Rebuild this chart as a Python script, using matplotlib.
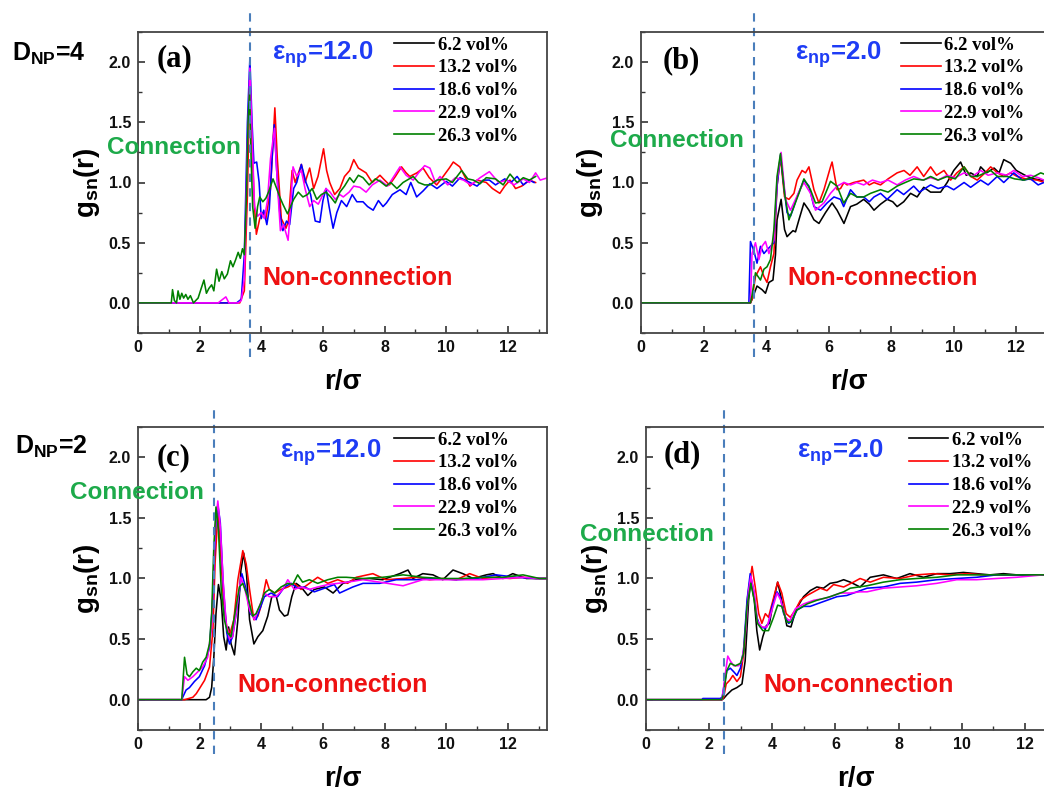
import matplotlib
matplotlib.use('Agg')
import matplotlib.pyplot as plt
from matplotlib.lines import Line2D
from matplotlib.ticker import MultipleLocator

plt.rcParams['font.family'] = ['Liberation Sans', 'DejaVu Sans']
plt.rcParams['mathtext.fontset'] = 'custom'
plt.rcParams['mathtext.rm'] = 'Liberation Sans:bold'
plt.rcParams['mathtext.bf'] = 'Liberation Sans:bold'
plt.rcParams['mathtext.it'] = 'Liberation Sans:bold'

vol_labels = ['6.2 vol%', '13.2 vol%', '18.6 vol%', '22.9 vol%', '26.3 vol%']
line_colors = ['#000000', '#ff0000', '#0000ff', '#ff00ff', '#008000']
panel_letters = ['(a)', '(b)', '(c)', '(d)']
eps_values = ['12.0', '2.0', '12.0', '2.0']
cut_r = [3.63, 3.62, 2.48, 2.48]   # dashed line position
d_np = ['4', '2']

# (r, g) points
# panel (a): D_NP=4, eps=12 (black curve is hidden under the others)
a_red = [(0, 0), (3.3, 0), (3.45, 0.1), (3.55, 0.9), (3.63, 1.9), (3.7, 1.3), (3.78, 0.8), (3.84, 0.57),
         (3.95, 0.7), (4.05, 0.75), (4.15, 0.7), (4.3, 0.95), (4.44, 1.62), (4.52, 1.2), (4.65, 0.7),
         (4.8, 0.62), (4.88, 0.68), (5.0, 1.1), (5.1, 1.0), (5.3, 1.15), (5.42, 1.0), (5.57, 1.12),
         (5.7, 0.95), (5.84, 1.05), (6.02, 1.28), (6.12, 1.1), (6.22, 1.0), (6.38, 0.9), (6.55, 0.95),
         (6.7, 1.05), (6.87, 1.1), (7.0, 1.19), (7.15, 1.12), (7.4, 1.08), (7.6, 1.0), (7.85, 1.06),
         (8.0, 1.02), (8.16, 0.98), (8.35, 1.05), (8.55, 1.13), (8.7, 1.08), (8.82, 1.05), (9.05, 1.08),
         (9.25, 1.12), (9.45, 1.04), (9.69, 0.98), (9.9, 1.05), (10.1, 1.12), (10.23, 1.17), (10.44, 1.13),
         (10.6, 1.05), (10.77, 0.97), (11.0, 1.02), (11.3, 1.0), (11.5, 0.95), (11.74, 0.91), (11.9, 0.97),
         (12.07, 1.02), (12.25, 0.95), (12.45, 0.97), (12.7, 1.02), (12.9, 1.0)]
a_blue = [(0, 0), (3.2, 0), (3.35, 0.03), (3.45, 0.4), (3.55, 1.5), (3.63, 2.03), (3.7, 1.5), (3.76, 1.16),
          (3.85, 1.17), (3.93, 1.0), (4.0, 0.7), (4.08, 0.77), (4.18, 0.65), (4.26, 0.78), (4.35, 1.2),
          (4.42, 1.48), (4.5, 1.1), (4.6, 0.75), (4.7, 0.6), (4.82, 0.68), (4.92, 0.65), (5.05, 0.95),
          (5.15, 1.0), (5.3, 1.15), (5.45, 1.0), (5.6, 0.9), (5.75, 0.68), (5.9, 0.67), (6.0, 0.85),
          (6.1, 0.95), (6.2, 0.8), (6.33, 0.62), (6.45, 0.75), (6.6, 0.85), (6.77, 0.8), (6.95, 0.9),
          (7.1, 0.84), (7.3, 0.84), (7.45, 0.8), (7.63, 0.77), (7.8, 0.85), (7.95, 0.8), (8.06, 0.83),
          (8.25, 0.9), (8.5, 0.94), (8.7, 0.9), (8.85, 1.0), (9.04, 0.88), (9.25, 0.93), (9.47, 0.99),
          (9.7, 0.95), (10.0, 1.01), (10.2, 0.97), (10.45, 1.04), (10.77, 1.0), (11.0, 0.97), (11.2, 1.02),
          (11.4, 1.02), (11.6, 0.98), (11.9, 1.03), (12.1, 1.0), (12.3, 1.05), (12.5, 0.98), (12.7, 1.02),
          (12.85, 1.0)]
a_magenta = [(0, 0), (2.6, 0), (2.75, 0.03), (2.85, 0.05), (2.95, 0.0), (3.25, 0.0), (3.35, 0.02),
             (3.45, 0.2), (3.55, 1.3), (3.63, 1.95), (3.7, 1.4), (3.78, 0.8), (3.88, 0.72), (4.0, 0.75),
             (4.1, 0.7), (4.2, 0.85), (4.3, 1.2), (4.43, 1.45), (4.52, 1.0), (4.62, 0.6), (4.72, 0.65),
             (4.87, 0.52), (4.95, 0.8), (5.03, 1.13), (5.15, 1.05), (5.3, 1.1), (5.42, 0.95), (5.57, 0.8),
             (5.7, 0.85), (5.85, 0.82), (6.0, 0.9), (6.1, 0.95), (6.23, 0.92), (6.4, 0.86), (6.55, 0.9),
             (6.66, 0.88), (6.85, 0.92), (7.0, 0.97), (7.2, 0.96), (7.4, 0.92), (7.6, 0.98), (7.85, 1.02),
             (8.1, 0.97), (8.3, 1.05), (8.5, 1.13), (8.7, 1.06), (8.93, 1.02), (9.1, 1.08), (9.3, 1.14),
             (9.47, 1.12), (9.65, 1.0), (9.8, 1.05), (10.05, 0.98), (10.3, 1.04), (10.56, 1.02), (10.8, 0.98),
             (11.1, 1.04), (11.4, 1.09), (11.7, 1.0), (11.96, 1.02), (12.2, 0.98), (12.5, 1.03), (12.7, 1.0),
             (12.9, 1.08), (13.05, 1.02), (13.3, 1.04)]
a_green = [(0, 0), (1.08, 0), (1.12, 0.11), (1.18, 0.02), (1.25, 0.0), (1.3, 0.1), (1.36, 0.03), (1.42, 0.08),
           (1.48, 0.04), (1.55, 0.07), (1.62, 0.03), (1.7, 0.06), (1.8, 0.0), (1.95, 0.04), (2.05, 0.12),
           (2.14, 0.19), (2.22, 0.08), (2.3, 0.12), (2.39, 0.15), (2.46, 0.1), (2.55, 0.28), (2.63, 0.18),
           (2.72, 0.26), (2.8, 0.2), (2.9, 0.24), (3.0, 0.35), (3.08, 0.3), (3.17, 0.36), (3.25, 0.42),
           (3.32, 0.37), (3.39, 0.45), (3.45, 0.4), (3.52, 0.9), (3.57, 1.5), (3.62, 1.78), (3.67, 1.2),
           (3.72, 0.8), (3.8, 0.62), (3.88, 0.8), (3.95, 0.88), (4.05, 0.84), (4.15, 0.87), (4.25, 0.93),
           (4.38, 1.03), (4.5, 0.95), (4.6, 0.88), (4.7, 0.82), (4.85, 0.74), (4.95, 0.8), (5.05, 0.86),
           (5.2, 0.92), (5.35, 0.88), (5.5, 0.9), (5.65, 0.95), (5.8, 0.86), (5.95, 0.9), (6.1, 0.92),
           (6.25, 0.88), (6.4, 0.83), (6.55, 0.92), (6.7, 0.97), (6.87, 1.04), (7.0, 1.0), (7.15, 1.06),
           (7.3, 1.04), (7.5, 0.98), (7.7, 1.03), (7.85, 1.01), (8.05, 0.97), (8.2, 1.0), (8.4, 0.95),
           (8.6, 1.0), (8.93, 1.05), (9.1, 1.0), (9.3, 0.98), (9.47, 0.98), (9.7, 1.02), (10.0, 1.03),
           (10.2, 1.0), (10.5, 1.1), (10.7, 1.03), (10.88, 1.02), (11.1, 0.99), (11.3, 1.04), (11.6, 1.03),
           (11.85, 0.98), (12.07, 1.07), (12.3, 1.0), (12.5, 1.04), (12.7, 1.02), (12.9, 1.05)]

# panel (b): D_NP=4, eps=2
b_black = [(0, 0), (3.5, 0), (3.55, 0.03), (3.71, 0.14), (3.87, 0.11), (3.98, 0.08), (4.09, 0.17), (4.22, 0.19),
           (4.3, 0.4), (4.35, 0.69), (4.48, 0.86), (4.59, 0.61), (4.67, 0.55), (4.78, 0.58), (4.86, 0.6),
           (4.94, 0.59), (5.05, 0.69), (5.21, 0.83), (5.37, 0.77), (5.53, 0.69), (5.69, 0.66), (5.9, 0.75),
           (6.11, 0.83), (6.27, 0.77), (6.49, 0.66), (6.7, 0.8), (6.9, 0.82), (7.12, 0.86), (7.3, 0.82),
           (7.45, 0.77), (7.66, 0.82), (7.87, 0.86), (8.05, 0.84), (8.19, 0.8), (8.4, 0.84), (8.62, 0.91),
           (8.83, 0.88), (9.04, 0.96), (9.26, 0.92), (9.58, 0.92), (9.79, 1.0), (10.0, 1.1), (10.22, 1.17),
           (10.4, 1.06), (10.54, 1.08), (10.75, 1.05), (10.86, 1.13), (11.05, 1.08), (11.29, 1.12),
           (11.45, 1.08), (11.6, 1.19), (11.82, 1.16), (12.0, 1.1), (12.14, 1.08), (12.35, 1.05),
           (12.57, 1.03), (12.78, 1.02), (13.3, 1.01)]
b_red = [(0, 0), (3.5, 0), (3.55, 0.03), (3.66, 0.22), (3.82, 0.3), (3.93, 0.22), (4.03, 0.17), (4.14, 0.3),
         (4.25, 0.41), (4.35, 0.97), (4.46, 1.21), (4.59, 0.88), (4.73, 0.86), (4.89, 0.91), (4.99, 1.02),
         (5.15, 1.1), (5.26, 1.08), (5.37, 1.13), (5.53, 0.94), (5.69, 0.83), (5.85, 0.94), (6.06, 1.13),
         (6.11, 1.17), (6.27, 0.94), (6.38, 0.95), (6.49, 1.0), (6.59, 0.98), (6.8, 1.0), (7.12, 1.02),
         (7.3, 0.98), (7.45, 1.0), (7.66, 0.98), (7.9, 1.03), (8.19, 1.08), (8.41, 1.1), (8.6, 1.06),
         (8.83, 1.13), (9.04, 1.05), (9.26, 1.13), (9.45, 1.06), (9.69, 1.1), (9.9, 1.02), (10.1, 1.08),
         (10.33, 1.13), (10.55, 1.05), (10.75, 1.02), (11.0, 1.08), (11.18, 1.13), (11.4, 1.08),
         (11.6, 1.05), (11.82, 1.08), (12.03, 1.05), (12.3, 1.03), (12.67, 1.02), (12.9, 1.0), (13.3, 1.0)]
b_blue = [(0, 0), (3.45, 0), (3.5, 0.51), (3.61, 0.43), (3.71, 0.33), (3.82, 0.47), (3.93, 0.41), (4.03, 0.44),
          (4.14, 0.47), (4.25, 0.5), (4.35, 0.97), (4.46, 1.23), (4.57, 0.97), (4.67, 0.75), (4.78, 0.72),
          (4.89, 0.8), (4.99, 0.88), (5.1, 0.95), (5.21, 1.02), (5.37, 0.97), (5.53, 0.8), (5.74, 0.77),
          (5.95, 0.83), (6.17, 0.88), (6.38, 0.86), (6.48, 0.8), (6.7, 0.94), (6.9, 0.88), (7.12, 0.88),
          (7.3, 0.84), (7.45, 0.88), (7.66, 0.91), (7.87, 0.86), (8.19, 0.94), (8.4, 0.9), (8.72, 0.97),
          (8.9, 0.92), (9.26, 0.98), (9.5, 0.95), (9.79, 0.97), (10.0, 0.94), (10.33, 1.0), (10.54, 0.96),
          (10.86, 1.02), (11.1, 0.98), (11.39, 1.05), (11.6, 1.0), (11.92, 1.08), (12.2, 1.02),
          (12.46, 1.03), (12.7, 0.98), (12.88, 1.0), (13.3, 1.0)]
b_magenta = [(0, 0), (3.5, 0), (3.55, 0.41), (3.66, 0.5), (3.77, 0.36), (3.87, 0.47), (3.98, 0.51), (4.09, 0.41),
             (4.19, 0.49), (4.25, 0.52), (4.35, 1.02), (4.48, 1.25), (4.62, 0.86), (4.78, 0.77), (4.94, 0.86),
             (5.1, 0.95), (5.21, 1.0), (5.42, 0.91), (5.58, 0.77), (5.85, 0.83), (6.06, 0.91), (6.27, 0.97),
             (6.49, 1.0), (6.7, 0.98), (6.9, 1.0), (7.12, 0.98), (7.4, 1.02), (7.66, 1.0), (7.9, 1.02),
             (8.19, 0.98), (8.45, 1.02), (8.72, 1.05), (9.0, 1.02), (9.26, 1.04), (9.5, 1.02), (9.79, 1.06),
             (10.05, 1.04), (10.33, 1.08), (10.6, 1.05), (10.86, 1.1), (11.1, 1.06), (11.39, 1.08),
             (11.7, 1.06), (11.92, 1.1), (12.2, 1.05), (12.46, 1.06), (12.7, 1.04), (12.88, 1.02), (13.3, 1.04)]
b_green = [(0, 0), (3.5, 0), (3.55, 0.06), (3.66, 0.25), (3.82, 0.19), (3.93, 0.28), (4.03, 0.3), (4.14, 0.36),
           (4.25, 0.61), (4.35, 1.05), (4.46, 1.24), (4.59, 0.91), (4.73, 0.69), (4.89, 0.8), (5.05, 0.91),
           (5.21, 1.03), (5.42, 0.94), (5.58, 0.83), (5.79, 0.84), (6.06, 1.01), (6.27, 0.97), (6.48, 0.83),
           (6.7, 0.91), (6.91, 0.88), (7.12, 0.88), (7.34, 0.91), (7.66, 0.94), (7.9, 0.92), (8.19, 0.97),
           (8.45, 1.0), (8.72, 1.03), (9.04, 1.02), (9.26, 1.05), (9.5, 1.02), (9.79, 1.05), (10.05, 1.03),
           (10.33, 1.13), (10.54, 1.05), (10.75, 1.05), (11.0, 1.08), (11.18, 1.1), (11.4, 1.05),
           (11.71, 1.05), (11.95, 1.03), (12.25, 1.02), (12.5, 1.04), (12.78, 1.08), (13.0, 1.06), (13.3, 1.05)]

# panel (c): D_NP=2, eps=12
c_black = [(0, 0), (2.21, 0), (2.32, 0.02), (2.39, 0.1), (2.46, 0.35), (2.53, 0.71), (2.61, 0.95), (2.7, 0.82),
           (2.78, 0.52), (2.86, 0.41), (2.94, 0.6), (3.02, 0.46), (3.13, 0.37), (3.24, 0.66), (3.34, 1.07),
           (3.43, 1.21), (3.52, 1.04), (3.62, 0.66), (3.76, 0.46), (3.89, 0.52), (4.05, 0.57), (4.21, 0.69),
           (4.34, 0.85), (4.48, 0.86), (4.59, 0.74), (4.75, 0.69), (4.86, 0.7), (4.99, 0.85), (5.13, 0.96),
           (5.29, 0.93), (5.51, 0.86), (5.72, 0.91), (6.05, 0.93), (6.33, 0.88), (6.65, 0.96), (7.08, 0.99),
           (7.51, 1.0), (7.94, 0.99), (8.49, 1.04), (8.76, 1.07), (8.92, 1.0), (9.24, 1.04), (9.57, 1.03),
           (9.89, 0.99), (10.22, 1.07), (10.54, 1.04), (10.87, 1.0), (11.3, 1.03), (11.52, 1.04),
           (11.84, 1.0), (12.16, 1.04), (12.6, 1.0), (13.03, 1.0), (13.3, 1.0)]
c_red = [(0, 0), (1.51, 0), (1.78, 0.02), (1.89, 0.05), (1.99, 0.09), (2.16, 0.16), (2.32, 0.27), (2.43, 0.57),
         (2.5, 1.12), (2.59, 1.54), (2.67, 1.26), (2.77, 0.82), (2.88, 0.6), (2.99, 0.55), (3.11, 0.66),
         (3.24, 0.99), (3.4, 1.23), (3.51, 1.12), (3.62, 0.91), (3.76, 0.66), (3.89, 0.69), (3.99, 0.77),
         (4.16, 0.99), (4.26, 0.91), (4.43, 0.88), (4.64, 0.91), (4.86, 0.93), (5.07, 0.96), (5.29, 0.91),
         (5.56, 0.96), (5.83, 1.01), (6.16, 0.96), (6.48, 0.99), (6.8, 0.96), (7.08, 1.01), (7.62, 1.04),
         (8.05, 0.99), (8.6, 1.0), (9.03, 1.01), (9.46, 0.99), (9.89, 1.0), (10.33, 0.99), (10.76, 1.04),
         (11.19, 1.0), (11.62, 1.01), (12.06, 1.0), (12.49, 1.01), (12.92, 1.0), (13.3, 1.0)]
c_blue = [(0, 0), (1.42, 0), (1.45, 0.02), (1.56, 0.08), (1.67, 0.1), (1.83, 0.15), (1.99, 0.19), (2.16, 0.28),
          (2.32, 0.43), (2.43, 0.85), (2.51, 1.4), (2.59, 1.61), (2.67, 1.46), (2.77, 0.93), (2.88, 0.55),
          (2.97, 0.46), (3.07, 0.52), (3.22, 0.77), (3.37, 1.04), (3.51, 0.91), (3.65, 0.71), (3.83, 0.66),
          (3.94, 0.74), (4.1, 0.85), (4.32, 0.88), (4.53, 0.85), (4.75, 0.93), (4.97, 0.96), (5.18, 0.92),
          (5.4, 0.93), (5.72, 0.89), (6.05, 0.92), (6.37, 0.95), (6.54, 0.88), (6.97, 0.93), (7.3, 0.96),
          (7.84, 0.96), (8.38, 0.99), (9.03, 0.99), (9.68, 1.0), (10.33, 0.99), (10.98, 1.0), (11.62, 1.03),
          (12.27, 1.01), (12.92, 1.0), (13.3, 1.0)]
c_magenta = [(0, 0), (1.42, 0), (1.51, 0.19), (1.62, 0.16), (1.78, 0.19), (1.94, 0.23), (2.1, 0.27), (2.26, 0.35),
             (2.39, 0.6), (2.5, 1.4), (2.59, 1.64), (2.67, 1.43), (2.76, 0.99), (2.86, 0.63), (2.97, 0.5),
             (3.07, 0.52), (3.18, 0.71), (3.34, 1.01), (3.47, 0.91), (3.62, 0.74), (3.78, 0.66), (3.94, 0.77),
             (4.1, 0.88), (4.26, 0.85), (4.48, 0.85), (4.7, 0.91), (4.86, 0.99), (5.07, 0.91), (5.29, 0.93),
             (5.56, 0.91), (5.83, 0.93), (6.16, 0.95), (6.48, 0.96), (6.8, 0.97), (7.3, 0.99), (7.84, 0.97),
             (8.6, 0.94), (9.24, 0.99), (9.89, 0.99), (10.54, 0.99), (11.19, 0.99), (11.84, 1.0),
             (12.49, 1.01), (13.03, 1.0), (13.3, 1.0)]
c_green = [(0, 0), (1.42, 0), (1.51, 0.35), (1.59, 0.21), (1.67, 0.19), (1.78, 0.23), (1.89, 0.26), (1.99, 0.24),
           (2.1, 0.31), (2.21, 0.35), (2.32, 0.46), (2.39, 0.71), (2.46, 1.26), (2.53, 1.59), (2.61, 1.4),
           (2.7, 0.91), (2.8, 0.66), (2.91, 0.55), (3.02, 0.52), (3.13, 0.69), (3.29, 0.93), (3.4, 0.96),
           (3.56, 0.85), (3.72, 0.69), (3.83, 0.71), (3.99, 0.8), (4.1, 0.88), (4.26, 0.91), (4.43, 0.88),
           (4.64, 0.93), (4.86, 0.96), (5.02, 0.95), (5.18, 1.03), (5.34, 0.97), (5.56, 0.99), (5.83, 0.96),
           (6.16, 0.99), (6.48, 1.01), (6.76, 1.01), (7.3, 1.0), (7.94, 1.01), (8.6, 1.03), (9.24, 1.01),
           (9.89, 1.0), (10.54, 1.0), (11.19, 1.01), (11.84, 1.01), (12.49, 1.03), (13.03, 1.0), (13.3, 1.0)]

# panel (d): D_NP=2, eps=2
d_black = [(0, 0), (2.4, 0), (2.46, 0.01), (2.56, 0.04), (2.72, 0.08), (2.88, 0.1), (3.04, 0.13), (3.14, 0.32),
           (3.25, 0.82), (3.32, 0.99), (3.43, 0.82), (3.51, 0.57), (3.6, 0.41), (3.7, 0.52), (3.81, 0.61),
           (3.91, 0.63), (4.04, 0.82), (4.17, 0.97), (4.3, 0.82), (4.46, 0.61), (4.59, 0.6), (4.76, 0.75),
           (4.99, 0.85), (5.2, 0.9), (5.41, 0.93), (5.62, 0.92), (5.83, 0.96), (6.05, 0.97), (6.26, 0.99),
           (6.47, 0.97), (6.78, 0.93), (7.1, 1.01), (7.52, 1.03), (7.94, 1.0), (8.36, 1.04), (8.79, 1.01),
           (9.21, 1.04), (9.63, 1.04), (10.05, 1.05), (10.47, 1.04), (10.89, 1.03), (11.32, 1.04),
           (11.74, 1.03), (12.17, 1.03), (12.58, 1.03), (13.3, 1.02)]
d_red = [(0, 0), (2.41, 0), (2.46, 0.02), (2.54, 0.13), (2.65, 0.16), (2.75, 0.2), (2.88, 0.15), (2.99, 0.19),
         (3.11, 0.41), (3.22, 0.85), (3.36, 1.1), (3.46, 0.93), (3.57, 0.71), (3.67, 0.63), (3.78, 0.71),
         (3.88, 0.68), (4.02, 0.82), (4.17, 0.97), (4.3, 0.88), (4.44, 0.71), (4.57, 0.68), (4.73, 0.74),
         (4.89, 0.82), (5.1, 0.86), (5.31, 0.89), (5.52, 0.92), (5.73, 0.9), (5.94, 0.95), (6.26, 0.93),
         (6.57, 0.97), (6.78, 1.0), (7.1, 0.97), (7.52, 1.01), (8.05, 1.0), (8.57, 1.03), (9.1, 1.04),
         (9.63, 1.03), (10.16, 1.04), (10.68, 1.03), (11.21, 1.03), (11.74, 1.03), (12.58, 1.03), (13.3, 1.03)]
d_blue = [(0, 0), (1.77, 0), (1.8, 0.01), (2.35, 0.01), (2.41, 0.02), (2.48, 0.13), (2.56, 0.24), (2.67, 0.26),
          (2.78, 0.23), (2.88, 0.2), (2.99, 0.26), (3.09, 0.41), (3.2, 0.82), (3.3, 1.04), (3.41, 0.9),
          (3.51, 0.68), (3.62, 0.6), (3.78, 0.59), (3.88, 0.63), (3.99, 0.77), (4.15, 0.89), (4.25, 0.85),
          (4.36, 0.71), (4.52, 0.63), (4.62, 0.65), (4.78, 0.74), (4.99, 0.77), (5.2, 0.77), (5.41, 0.79),
          (5.73, 0.82), (6.05, 0.85), (6.36, 0.86), (6.68, 0.89), (7.0, 0.92), (7.52, 0.93), (8.05, 0.96),
          (8.57, 0.97), (9.21, 0.99), (9.84, 1.0), (10.47, 1.01), (11.1, 1.03), (11.74, 1.03), (12.58, 1.03),
          (13.3, 1.03)]
d_magenta = [(0, 0), (2.41, 0), (2.51, 0.21), (2.59, 0.36), (2.67, 0.32), (2.78, 0.28), (2.93, 0.28), (3.04, 0.32),
             (3.14, 0.52), (3.25, 0.9), (3.32, 1.02), (3.43, 0.88), (3.53, 0.65), (3.67, 0.6), (3.83, 0.6),
             (3.99, 0.74), (4.15, 0.88), (4.27, 0.82), (4.41, 0.68), (4.55, 0.65), (4.73, 0.75), (4.99, 0.79),
             (5.31, 0.82), (5.73, 0.84), (6.15, 0.88), (6.47, 0.88), (6.78, 0.89), (7.0, 0.89), (7.52, 0.92),
             (8.05, 0.93), (8.57, 0.94), (9.21, 0.96), (9.84, 0.99), (10.47, 0.99), (11.1, 1.0), (11.74, 1.01),
             (12.58, 1.03), (13.3, 1.03)]
d_green = [(0, 0), (2.4, 0), (2.46, 0.05), (2.56, 0.24), (2.67, 0.3), (2.83, 0.28), (2.99, 0.3), (3.09, 0.38),
           (3.2, 0.77), (3.32, 0.96), (3.43, 0.82), (3.53, 0.63), (3.7, 0.57), (3.88, 0.57), (4.04, 0.68),
           (4.17, 0.78), (4.3, 0.77), (4.46, 0.64), (4.59, 0.64), (4.78, 0.74), (5.1, 0.79), (5.41, 0.82),
           (5.83, 0.85), (6.26, 0.89), (6.47, 0.92), (7.0, 0.94), (7.52, 0.97), (8.05, 0.99), (8.57, 1.0),
           (9.21, 1.01), (9.84, 1.03), (10.47, 1.03), (11.1, 1.03), (11.74, 1.03), (12.58, 1.03), (13.3, 1.03)]

panels = [
    [None, a_red, a_blue, a_magenta, a_green],
    [b_black, b_red, b_blue, b_magenta, b_green],
    [c_black, c_red, c_blue, c_magenta, c_green],
    [d_black, d_red, d_blue, d_magenta, d_green],
]

W, H = 1044, 791
fig = plt.figure(figsize=(W / 100, H / 100), dpi=100)

# axes boxes in pixels: left, top, width, height
boxes = [(138, 32, 409, 301), (641, 32, 415, 301), (138, 427, 409, 303), (646, 427, 419, 303)]
letter_pos = [(0.6, 2.03), (0.68, 2.01), (0.6, 2.0), (0.55, 2.02)]
eps_pos = [(4.35, 2.06), (4.94, 2.06), (4.6, 2.04), (4.79, 2.04)]
conn_pos = [(-1.0, 1.29), (-0.98, 1.35), (-2.2, 1.71), (-2.08, 1.36)]
nonconn_pos = [(4.04, 0.21), (4.68, 0.21), (3.23, 0.12), (3.71, 0.12)]

handles = [Line2D([], [], color=c, lw=1.2) for c in line_colors]

for i, (l, t, w, h) in enumerate(boxes):
    ax = fig.add_axes([l / W, 1 - (t + h) / H, w / W, h / H])
    for curve, color in zip(panels[i], line_colors):
        if curve is None:
            continue
        r, g = zip(*curve)
        ax.plot(r, g, color=color, lw=1.15)

    ax.set_xlim(0, 13.27)
    ax.set_ylim(-0.25, 2.25)
    ax.xaxis.set_major_locator(MultipleLocator(2))
    ax.xaxis.set_minor_locator(MultipleLocator(1))
    ax.yaxis.set_major_locator(MultipleLocator(0.5))
    ax.yaxis.set_minor_locator(MultipleLocator(0.25))
    ax.yaxis.set_major_formatter(matplotlib.ticker.FormatStrFormatter('%.1f'))
    ax.tick_params(which='both', direction='in', top=False, right=False, colors='#333333',
                   labelcolor='#111111')
    ax.tick_params(which='major', length=5, width=1.2, labelsize=11.5, pad=5)
    ax.tick_params(which='minor', length=3, width=1.0)
    for lab in ax.get_xticklabels() + ax.get_yticklabels():
        lab.set_fontweight('bold')
    for sp in ax.spines.values():
        sp.set_color('#444444')
        sp.set_linewidth(1.3)

    ax.set_xlabel('r/σ', fontsize=20, fontweight='bold', labelpad=10)
    ax.set_ylabel(r'g$_{\mathbf{sn}}$(r)', fontsize=20, fontweight='bold', labelpad=5)

    ax.axvline(cut_r[i], ymin=-0.08, ymax=1.065, clip_on=False, color='#4a7ebb', lw=1.5, ls=(0, (4, 3)))

    ax.text(*letter_pos[i], panel_letters[i], family='Liberation Serif', fontweight='bold',
            fontsize=22, ha='left', va='center')
    ax.text(*eps_pos[i], 'ε$_{\\mathbf{np}}$=' + eps_values[i], color='#1e3cf5', fontweight='bold',
            fontsize=18.5, ha='left', va='center')
    ax.text(*conn_pos[i], 'Connection', color='#1daa4a', fontweight='bold', fontsize=17.5,
            ha='left', va='center')
    ax.text(*nonconn_pos[i], 'Non-connection', color='#ee1111', fontweight='bold', fontsize=18,
            ha='left', va='center')

    ax.legend(handles, vol_labels, loc='upper left', bbox_to_anchor=(0.627, 0.985), frameon=False,
              prop={'family': 'Liberation Serif', 'weight': 'bold', 'size': 13.5},
              handlelength=2.1, handletextpad=0.2, labelspacing=0.3, borderpad=0, borderaxespad=0)

fig.text(12 / W, 1 - 54 / H, 'D$_{\\mathbf{NP}}$=' + d_np[0], fontsize=18, fontweight='bold', va='center')
fig.text(15 / W, 1 - 447 / H, 'D$_{\\mathbf{NP}}$=' + d_np[1], fontsize=18, fontweight='bold', va='center')

fig.savefig('out.png', dpi=100, facecolor='white')
